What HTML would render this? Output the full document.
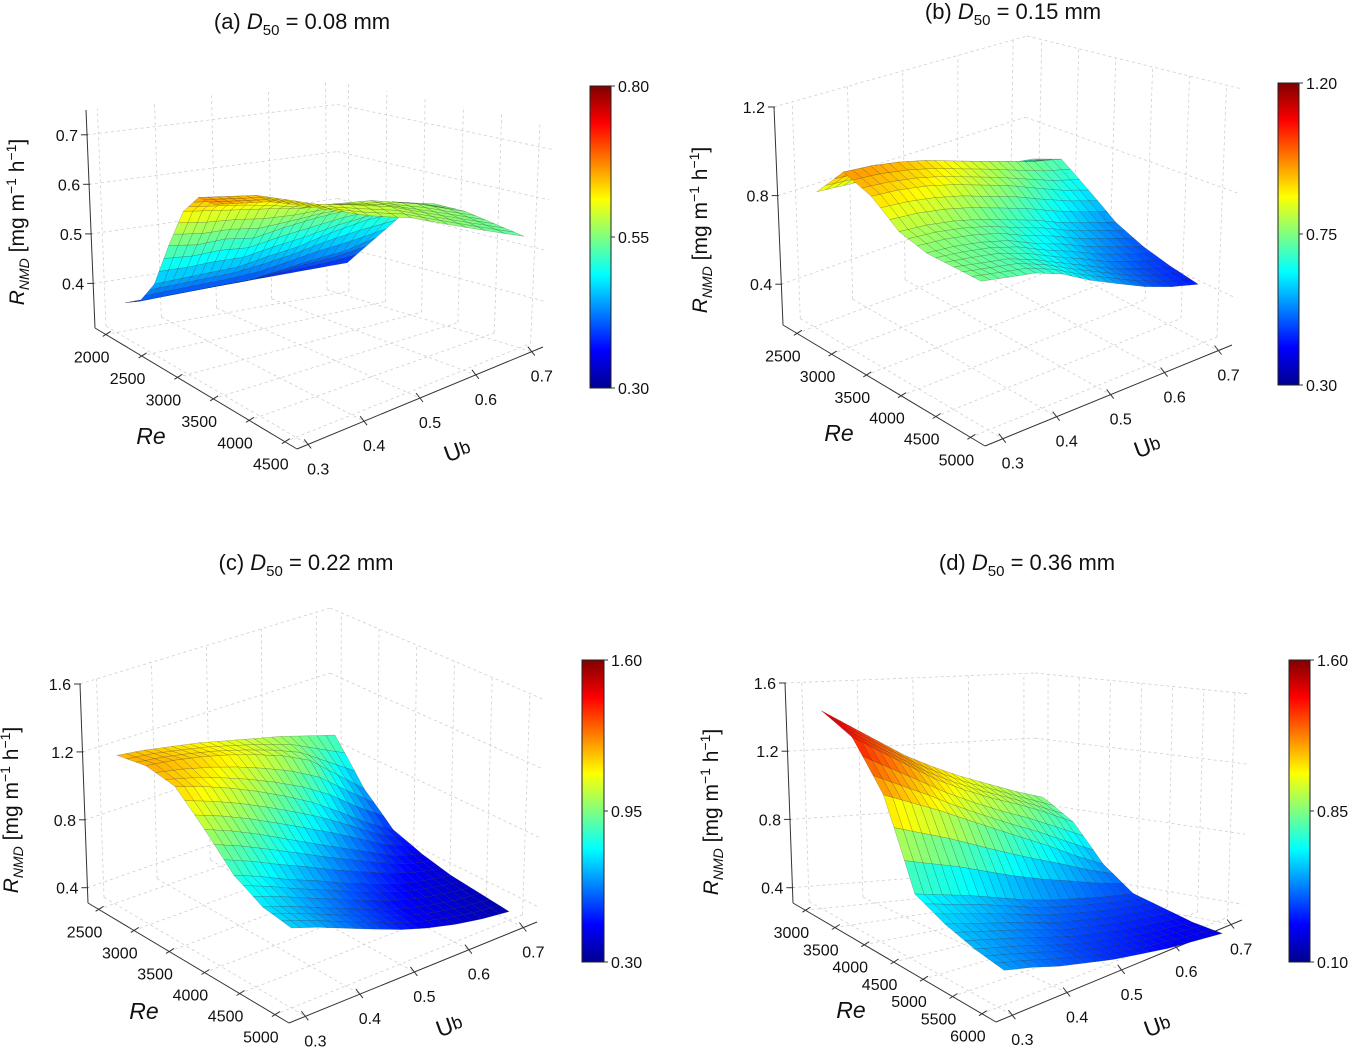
<!DOCTYPE html>
<html><head><meta charset="utf-8"><style>
html,body{margin:0;padding:0;background:#fff;}
svg{display:block;font-family:"Liberation Sans","DejaVu Sans",sans-serif;}
</style></head><body>
<svg id="fig" width="1352" height="1050" viewBox="0 0 1352 1050" xmlns="http://www.w3.org/2000/svg">
<defs>
<linearGradient id="jetgrad" x1="0" y1="1" x2="0" y2="0">
<stop offset="0" stop-color="#00008f"/><stop offset="0.125" stop-color="#0000ff"/><stop offset="0.375" stop-color="#00ffff"/><stop offset="0.625" stop-color="#ffff00"/><stop offset="0.875" stop-color="#ff0000"/><stop offset="1" stop-color="#800000"/>
</linearGradient>
</defs>
<g id="panels"></g>
</svg>
<script>
// ---- shared data ----
const ubVals = [0.30,0.35,0.40,0.45,0.50,0.55,0.60,0.65,0.70];
const ubTicks = [0.3,0.4,0.5,0.6,0.7];

// ---- panel (a) data ----
const aReLo = [2130,2130,2130,2130,2130,2130,2130,2130,2130];
const aReHi = [3400,3400,3400,3400,3450,3550,3750,4100,4500];
const aZ = [
 [0.38,0.38,0.38,0.38,0.38,0.38,0.38,0.38,0.38],
 [0.40,0.40,0.40,0.40,0.40,0.41,0.42,0.43,0.45],
 [0.45,0.45,0.45,0.45,0.46,0.47,0.49,0.51,0.52],
 [0.54,0.53,0.53,0.52,0.53,0.54,0.55,0.56,0.55],
 [0.62,0.61,0.60,0.59,0.58,0.58,0.58,0.57,0.55],
 [0.66,0.65,0.64,0.62,0.60,0.59,0.58,0.56,0.54],
 [0.66,0.65,0.64,0.62,0.60,0.58,0.57,0.55,0.53]];
const aReTicks = [2000,2500,3000,3500,4000,4500];
const aZTicks = [0.4,0.5,0.6,0.7];
const aCbTicks = [0.30,0.55,0.80];

// ---- panel (b) data ----
const bReLo = [2600,2600,2600,2600,2600,2600,2600,2600,2600];
const bReHi = [4900,4900,4900,4900,4900,4900,4900,4900,4900];
const bZ = [
 [0.83,0.82,0.81,0.79,0.76,0.74,0.71,0.68,0.66],
 [0.96,0.95,0.93,0.90,0.86,0.82,0.78,0.74,0.71],
 [0.90,0.89,0.87,0.84,0.80,0.76,0.71,0.66,0.62],
 [0.80,0.79,0.77,0.74,0.70,0.66,0.61,0.57,0.53],
 [0.76,0.75,0.73,0.70,0.65,0.61,0.56,0.52,0.48],
 [0.75,0.73,0.71,0.67,0.62,0.57,0.52,0.48,0.45],
 [0.74,0.72,0.70,0.66,0.60,0.55,0.50,0.46,0.43]];
const bReTicks = [2500,3000,3500,4000,4500,5000];
const bZTicks = [0.4,0.8,1.2];
const bCbTicks = [0.30,0.75,1.20];

// ---- panel (c) data ----
const cReLo = [2600,2600,2600,2600,2600,2600,2600,2600,2600];
const cReHi = [5000,5000,5000,5000,5000,5000,5000,5000,5000];
const cZ = [
 [1.20,1.18,1.15,1.12,1.08,1.04,1.00,0.95,0.90],
 [1.22,1.20,1.17,1.13,1.08,1.02,0.94,0.80,0.66],
 [1.18,1.13,1.07,1.00,0.92,0.83,0.72,0.60,0.50],
 [1.02,0.96,0.89,0.81,0.73,0.65,0.57,0.49,0.44],
 [0.85,0.79,0.72,0.66,0.59,0.53,0.47,0.43,0.40],
 [0.76,0.71,0.65,0.59,0.53,0.47,0.43,0.40,0.38],
 [0.73,0.68,0.62,0.56,0.50,0.45,0.41,0.38,0.36]];
const cReTicks = [2500,3000,3500,4000,4500,5000];
const cZTicks = [0.4,0.8,1.2,1.6];
const cCbTicks = [0.30,0.95,1.60];

// ---- panel (d) data ----
const dReLo = [3100,3100,3100,3100,3100,3100,3100,3100,3100];
const dReHi = [6100,6100,6100,6100,6100,6100,6100,6100,6100];
const dZ = [
 [1.48,1.38,1.28,1.18,1.10,1.03,0.97,0.91,0.86],
 [1.40,1.30,1.20,1.10,1.02,0.95,0.89,0.82,0.74],
 [1.15,1.08,1.01,0.93,0.85,0.77,0.69,0.60,0.52],
 [0.68,0.64,0.60,0.55,0.50,0.46,0.43,0.40,0.38],
 [0.60,0.56,0.52,0.48,0.43,0.40,0.37,0.35,0.33],
 [0.55,0.51,0.47,0.42,0.38,0.35,0.32,0.30,0.28],
 [0.52,0.48,0.43,0.39,0.35,0.32,0.29,0.27,0.25]];
const dReTicks = [3000,3500,4000,4500,5000,5500,6000];
const dZTicks = [0.4,0.8,1.2,1.6];
const dCbTicks = [0.10,0.85,1.60];

const NS = "http://www.w3.org/2000/svg";
const root = document.getElementById('panels');
function mk(tag, attrs, parent){ const e=document.createElementNS(NS,tag); for(const k in attrs) e.setAttribute(k,attrs[k]); (parent||root).appendChild(e); return e; }
function clamp(v){return Math.max(0,Math.min(1,v));}
function jet(t){ t=clamp(t);
  const r=clamp(1.5-Math.abs(4*t-3)), g=clamp(1.5-Math.abs(4*t-2)), b=clamp(1.5-Math.abs(4*t-1));
  return 'rgb('+Math.round(r*255)+','+Math.round(g*255)+','+Math.round(b*255)+')'; }

function drawPanel(P, reLo, reHi, Z, reTicks, zTicks, cbTicks){
  const g = mk('g',{});
  
  
  const un = v => (v-P.ub0)/(P.ub1-P.ub0);
  const rn = v => (v-P.re0)/(P.re1-P.re0);
  const wn = v => (v-P.z0)/(P.z1-P.z0);
  function bil(c,u,r){ return [
    (1-u)*(1-r)*c.L[0]+u*(1-r)*c.B[0]+(1-u)*r*c.F[0]+u*r*c.R[0],
    (1-u)*(1-r)*c.L[1]+u*(1-r)*c.B[1]+(1-u)*r*c.F[1]+u*r*c.R[1]]; }
  function proj(u,r,w){ const b=bil(P.bot,u,r), t=bil(P.top,u,r); return [b[0]+(t[0]-b[0])*w, b[1]+(t[1]-b[1])*w]; }
  const line=(a,b,st,nm)=>{ const l=mk('line',{x1:a[0].toFixed(1),y1:a[1].toFixed(1),x2:b[0].toFixed(1),y2:b[1].toFixed(1),stroke:st.c,'stroke-width':st.w,'stroke-dasharray':st.d||'none'},g);
      return l; };
  const grid={c:'#cfcfcf',w:0.8,d:'3,3'};
  ubTicks.forEach(v=>{ const u=un(v);
    line(proj(u,0,0),proj(u,1,0),grid,'floor-gridline');
    line(proj(u,0,0),proj(u,0,1),grid,'wall-gridline'); });
  reTicks.forEach(v=>{ const r=rn(v);
    line(proj(0,r,0),proj(1,r,0),grid,'floor-gridline');
    line(proj(1,r,0),proj(1,r,1),grid,'wall-gridline'); });
  zTicks.forEach(v=>{ const w=wn(v);
    line(proj(0,0,w),proj(1,0,w),grid,'wall-gridline');
    line(proj(1,0,w),proj(1,1,w),grid,'wall-gridline'); });
  const ax={c:'#333',w:1};
  line(proj(0,0,0),proj(0,0,1),ax,'z-axis-line');
  line(proj(0,0,0),proj(0,1,0),ax,'re-axis-line');
  line(proj(0,1,0),proj(1,1,0),ax,'ub-axis-line');
  const txt=(x,y,s,anchor,nm,extra)=>{ const t=mk('text',Object.assign({x:x.toFixed(1),y:y.toFixed(1),'font-size':16,'text-anchor':anchor,fill:'#111'},extra||{}),g); t.textContent=s;
      return t; };
  zTicks.forEach(v=>{ const p=proj(0,0,wn(v));
    line([p[0]-6,p[1]],[p[0]+1,p[1]],ax,'z-tick');
    txt(p[0]-9,p[1]+6,v.toFixed(1),'end','z-tick-label'); });
  reTicks.forEach(v=>{ const p=proj(0,rn(v),0);
    line([p[0]-3,p[1]+2],[p[0]+5,p[1]-3],ax,'re-tick');
    txt(p[0]-14,p[1]+28,String(v),'middle','re-tick-label'); });
  ubTicks.forEach(v=>{ const p=proj(un(v),1,0);
    line([p[0]-4,p[1]-5],[p[0]+3,p[1]+4],ax,'ub-tick');
    txt(p[0]+10,p[1]+30,v.toFixed(1),'middle','ub-tick-label'); });
  const nR=Z.length, nC=ubVals.length, S=3, quads=[];
  const pt=(i,j)=>{ const re=reLo[j]+(reHi[j]-reLo[j])*i/(nR-1); return [un(ubVals[j]),rn(re),wn(Z[i][j]),Z[i][j]]; };
  for(let i=0;i<nR-1;i++) for(let j=0;j<nC-1;j++){
    const A=pt(i,j),Bq=pt(i,j+1),C=pt(i+1,j),D=pt(i+1,j+1);
    const at=(a,b)=>[0,1,2,3].map(k=>(1-a)*(1-b)*A[k]+b*(1-a)*Bq[k]+a*(1-b)*C[k]+a*b*D[k]);
    for(let s=0;s<S;s++) for(let t=0;t<S;t++){
      const c=[at(s/S,t/S),at(s/S,(t+1)/S),at((s+1)/S,(t+1)/S),at((s+1)/S,t/S)];
      const m=[0,1,2,3].map(k=>(c[0][k]+c[1][k]+c[2][k]+c[3][k])/4);
      quads.push({c, zv:m[3], far:m[0]+(1-m[1])-0.8*m[2]});
    }
  }
  quads.sort((a,b)=>b.far-a.far);
  const sg=mk('g',{},g);
  
  
  quads.forEach(q=>{
    const pts=q.c.map(p=>proj(p[0],p[1],p[2]).map(v=>v.toFixed(1)).join(',')).join(' ');
    const col=jet((q.zv-P.cb0)/(P.cb1-P.cb0));
    const pg=mk('polygon',{points:pts,fill:col,stroke:'rgba(30,30,30,0.35)','stroke-width':0.5,'stroke-linejoin':'round'},sg);
    
    
  });
  const cb=P.cbar;
  const rect=mk('rect',{x:cb.x,y:cb.y,width:cb.w,height:cb.h,fill:'url(#jetgrad)',stroke:'#222','stroke-width':1},g);
  
  
  cbTicks.forEach(v=>{ const y=cb.y+cb.h*(1-(v-P.cb0)/(P.cb1-P.cb0));
    line([cb.x+cb.w,y],[cb.x+cb.w+4,y],ax,'colorbar-tick');
    txt(cb.x+cb.w+7,y+6,v.toFixed(2),'start','colorbar-tick-label'); });
  const tt=mk('text',{x:P.title[0],y:P.title[1],'font-size':22,'text-anchor':'middle',fill:'#111'},g);
  
  
  tt.innerHTML=P.letter+' <tspan font-style="italic">D</tspan><tspan font-size="15" dy="6">50</tspan><tspan dy="-6"> = '+P.d50+' mm</tspan>';
  const zl=mk('text',{x:0,y:0,'font-size':21,'text-anchor':'middle',fill:'#111',transform:'translate('+P.zlab[0]+','+P.zlab[1]+') rotate(-90)'},g);
  
  
  zl.innerHTML='<tspan font-style="italic">R</tspan><tspan font-style="italic" font-size="14" dy="5">NMD</tspan><tspan dy="-5"> [mg m</tspan><tspan font-size="14" dy="-8">−1</tspan><tspan dy="8"> h</tspan><tspan font-size="14" dy="-8">−1</tspan><tspan dy="8">]</tspan>';
  const rl=mk('text',{x:P.relab[0],y:P.relab[1],'font-size':23,'font-style':'italic','text-anchor':'middle',fill:'#111'},g);
  rl.textContent='Re';
  
  
  const ul=mk('text',{x:0,y:0,'font-size':23,'text-anchor':'middle',fill:'#111',transform:'translate('+P.ublab[0]+','+P.ublab[1]+') rotate(-20)'},g);
  ul.innerHTML='U<tspan font-size="18" dy="-2">b</tspan>';
  
  
}

drawPanel({name:'panel-a',letter:'(a)',d50:'0.08',ub0:0.28,ub1:0.72,re0:1850,re1:4670,z0:0.31,z1:0.75,cb0:0.30,cb1:0.80,
  bot:{L:[95,328],B:[338,288],F:[297,449],R:[543,347]},top:{L:[86,110],B:[337,81],F:[297,199],R:[553,124]},
  cbar:{x:590,y:86,w:21,h:302},title:[302,29],zlab:[24,222],relab:[151,444],ublab:[460,458]},
  aReLo,aReHi,aZ,aReTicks,aZTicks,aCbTicks);
drawPanel({name:'panel-b',letter:'(b)',d50:'0.15',ub0:0.267,ub1:0.725,re0:2300,re1:5210,z0:0.216,z1:1.2,cb0:0.30,cb1:1.20,
  bot:{L:[783,325],B:[1023,236],F:[985,446],R:[1232,345]},top:{L:[774,107],B:[1027,36],F:[985,166],R:[1242,89]},
  cbar:{x:1278,y:83,w:21,h:302},title:[1013,19],zlab:[707,230],relab:[839,441],ublab:[1150,454]},
  bReLo,bReHi,bZ,bReTicks,bZTicks,bCbTicks);
drawPanel({name:'panel-c',letter:'(c)',d50:'0.22',ub0:0.27,ub1:0.725,re0:2350,re1:5200,z0:0.31,z1:1.6,cb0:0.30,cb1:1.60,
  bot:{L:[88,903],B:[330,818],F:[289,1023],R:[537,922]},top:{L:[80,684],B:[330,608],F:[289,773],R:[545,700]},
  cbar:{x:582,y:660,w:22,h:302},title:[306,570],zlab:[18,810],relab:[144,1019],ublab:[452,1033]},
  cReLo,cReHi,cZ,cReTicks,cZTicks,cCbTicks);
drawPanel({name:'panel-d',letter:'(d)',d50:'0.36',ub0:0.27,ub1:0.72,re0:2790,re1:6240,z0:0.31,z1:1.6,cb0:0.10,cb1:1.60,
  bot:{L:[793,903],B:[1035,883],F:[996,1022],R:[1242,920]},top:{L:[785,683],B:[1035,673],F:[996,772],R:[1250,694]},
  cbar:{x:1289,y:660,w:21,h:302},title:[1027,570],zlab:[718,812],relab:[851,1018],ublab:[1160,1033]},
  dReLo,dReHi,dZ,dReTicks,dZTicks,dCbTicks);
</script>
</body></html>
